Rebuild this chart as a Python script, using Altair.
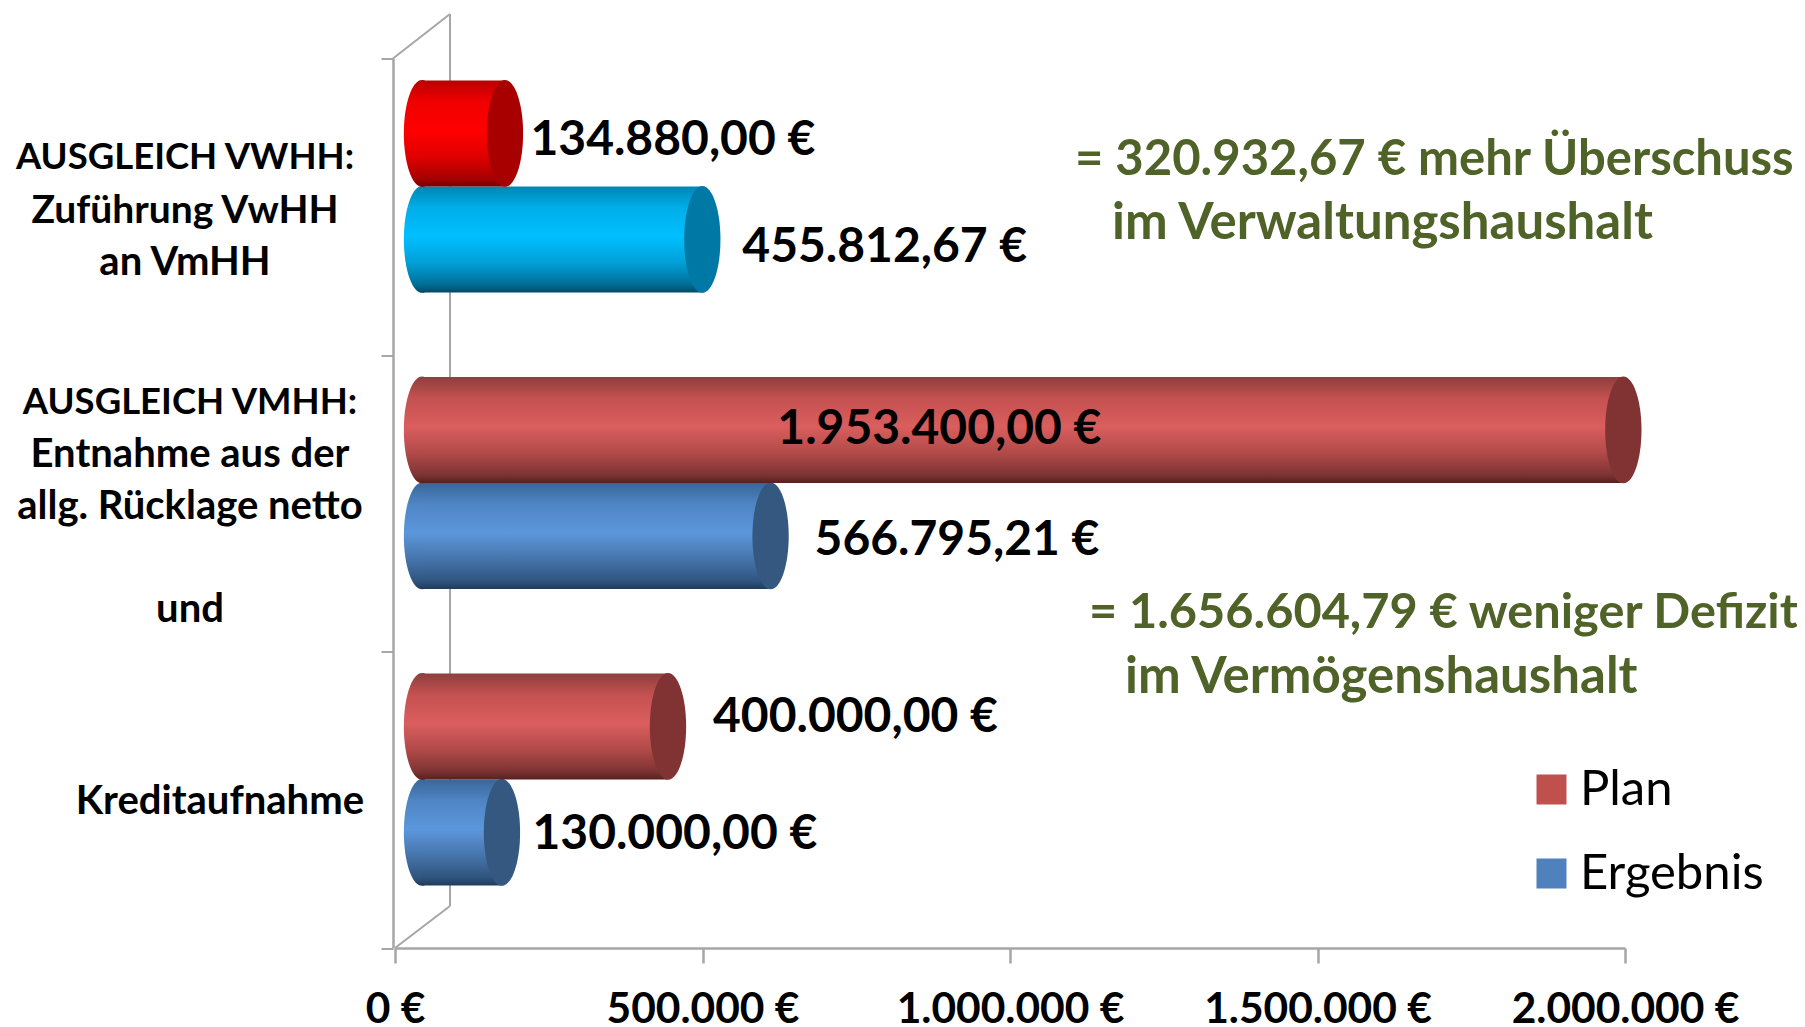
import altair as alt
import pandas as pd

# ---- data
groups = ["Zuführung VwHH an VmHH", "Entnahme aus der allg. Rücklage netto", "Kreditaufnahme"]
series = ["Plan", "Ergebnis"]
row_group = [groups[0], groups[0], groups[1], groups[1], groups[2], groups[2]]
row_series = ["Plan", "Ergebnis", "Plan", "Ergebnis", "Plan", "Ergebnis"]
values = [134880.00, 455812.67, 1953400.00, 566795.21, 400000.00, 130000.00]
labels = ["134.880,00 €", "455.812,67 €", "1.953.400,00 €", "566.795,21 €", "400.000,00 €", "130.000,00 €"]
x_ticks = [0, 500000, 1000000, 1500000, 2000000]
x_tick_labels = ["0 €", "500.000 €", "1.000.000 €", "1.500.000 €", "2.000.000 €"]
legend_colors = ["#c0504d", "#4f81bd"]

# ---- styling
FONT = "Lato"
W, H = 1230, 889.5
LEFT, TOP = 395, 58.5
DX = 27                     # the 3D depth shift of the bars
GRID = "#a6a6a6"

def grad(*stops):
    return alt.Gradient(gradient="linear", x1=0, x2=0, y1=0, y2=1,
                        stops=[alt.GradientStop(offset=o, color=c) for o, c in stops])

RED = grad((0, "#8c3f3e"), (0.2, "#c45150"), (0.47, "#da5e5d"), (0.72, "#b04a49"), (0.92, "#7e3433"), (1, "#552120"))
BLUE = grad((0, "#39669a"), (0.2, "#4e85c4"), (0.47, "#5c97dc"), (0.72, "#4674aa"), (0.92, "#305580"), (1, "#213b5c"))
BRIGHT_RED = grad((0, "#b80000"), (0.2, "#f00000"), (0.47, "#ff0000"), (0.72, "#e00000"), (0.92, "#a80000"), (1, "#7a0000"))
CYAN = grad((0, "#0085b5"), (0.2, "#00aee8"), (0.47, "#00bfff"), (0.72, "#00a0d8"), (0.92, "#006f98"), (1, "#004a66"))
row_fill = [BRIGHT_RED, CYAN, RED, BLUE, RED, BLUE]
row_cap = ["#a80000", "#0078a6", "#803332", "#34587f", "#803332", "#34587f"]
label_dx = [52.5, 67, -819, 71, 72, 57.5]
label_dy = [7.5, 8.5, 0, 5.5, -8.5, 2.5]

df = pd.DataFrame({"group": row_group, "series": row_series, "value": values, "label": labels})
df["row"] = range(len(df))
df["zero"] = 0

def xe(field):
    return alt.X(field + ":Q", title=None, stack=None,
                 scale=alt.Scale(domain=[0, 2000000]),
                 axis=alt.Axis(values=x_ticks, grid=False, domainColor=GRID, domainWidth=2.5,
                               tickColor=GRID, tickWidth=2.5, tickSize=15,
                               labelFont=FONT, labelFontWeight="bold", labelFontSize=42.5, labelColor="#000000",
                               labelPadding=46, labelBaseline="middle", labelLimit=0, labelOverlap=False,
                               labelFlush=False, labelBound=False,
                               labelExpr="%r[round(datum.value/500000)]" % x_tick_labels))

y_enc = alt.Y("group:N", title=None, sort=groups,
              scale=alt.Scale(domain=groups, paddingInner=0, paddingOuter=0),
              axis=alt.Axis(labels=False, tickBand="extent", grid=False, domainColor=GRID, domainWidth=2.5,
                            tickColor=GRID, tickWidth=2, tickSize=12, offset=2))
yo_enc = alt.YOffset("series:N", sort=series,
                     scale=alt.Scale(domain=series, paddingInner=0, paddingOuter=0.3986, align=0.26))

base = alt.Chart(df)

def wall(x, x2, y, y2):
    return alt.Chart(df.head(1)).mark_rule(color=GRID, strokeWidth=2).encode(
        x=alt.value(x - LEFT), x2=alt.value(x2 - LEFT), y=alt.value(y - TOP), y2=alt.value(y2 - TOP))

layers = [
    base.mark_point(filled=True, size=0, opacity=1).encode(
        x=xe("value"), y=y_enc, yOffset=yo_enc,
        color=alt.Color("series:N", sort=series,
                        scale=alt.Scale(domain=series, range=legend_colors),
                        legend=alt.Legend(orient="none", legendX=1535 - LEFT - 8, legendY=765 - TOP,
                                          title=None, symbolType="square", symbolSize=900, symbolOpacity=1,
                                          symbolStrokeWidth=0, labelFont=FONT, labelFontSize=49,
                                          labelColor="#000000", labelOffset=4, rowPadding=34,
                                          labelLimit=300))),
    wall(393, 450, 58.5, 14), wall(450, 450, 14, 906), wall(450, 395, 906, 948),
]

ELLIPSE = "M0,-1 A0.34,1 0 1,1 0,1 A0.34,1 0 1,1 0,-1 Z"
CYL = 11400  # symbol size: sqrt gives the cylinder's height in pixels

for i in [1, 0, 3, 2, 5, 4]:
    sub = base.transform_filter(alt.datum.row == i)
    layers.append(sub.mark_point(filled=True, shape=ELLIPSE, size=CYL, fill=row_fill[i], opacity=1,
                                 strokeWidth=0, xOffset=DX).encode(
        x=xe("zero"), y=y_enc, yOffset=yo_enc))
    layers.append(sub.mark_bar(fill=row_fill[i], xOffset=DX, x2Offset=DX, cornerRadius=0).encode(
        x=xe("zero"), x2="value:Q", y=y_enc, yOffset=yo_enc))
    layers.append(sub.mark_point(filled=True, shape=ELLIPSE, size=CYL, fill=row_cap[i], opacity=1,
                                 strokeWidth=0, xOffset=DX).encode(
        x=xe("value"), y=y_enc, yOffset=yo_enc))

for i in range(6):
    layers.append(base.transform_filter(alt.datum.row == i).mark_text(
        font=FONT, fontWeight="bold", fontSize=48, color="#000000", align="left", baseline="middle",
        dx=label_dx[i], dy=label_dy[i]).encode(
        x=xe("value"), y=y_enc, yOffset=yo_enc, text="label:N"))

def note(text, x, y, color="#000000", size=40, align="center"):
    return alt.Chart(df.head(1)).mark_text(
        text=text, font=FONT, fontWeight="bold", fontSize=size, color=color, align=align, baseline="middle",
        ).encode(x=alt.value(x - LEFT), y=alt.value(y - TOP))

GREEN = "#4f6228"
layers += [
    note("AUSGLEICH VWHH:", 185, 158, size=36.5), note("Zuführung VwHH", 185, 211, size=39), note("an VmHH", 185, 263),
    note("AUSGLEICH VMHH:", 190, 403, size=36.5), note("Entnahme aus der", 190, 455), note("allg. Rücklage netto", 190, 507),
    note("und", 190, 610), note("Kreditaufnahme", 364, 802, align="right"),
    note("= 320.932,67 € mehr Überschuss", 1075, 160, GREEN, 49, "left"),
    note("im Verwaltungshaushalt", 1112, 224, GREEN, 51, "left"),
    note("= 1.656.604,79 € weniger Defizit", 1089, 613, GREEN, 48.7, "left"),
    note("im Vermögenshaushalt", 1125, 678, GREEN, 51, "left"),
]

chart = alt.layer(*layers).resolve_scale(x="shared", y="shared").properties(
    width=W, height=H,
    autosize=alt.AutoSizeParams(type="none"),
    padding={"left": LEFT - 8, "top": TOP - 8, "right": 1789 - (LEFT - 8) - W, "bottom": 1019 - (TOP - 8) - H},
    background="#ffffff",
).configure_view(stroke=None)

chart.save("out.html", embed_options={"renderer": "svg", "actions": False})
